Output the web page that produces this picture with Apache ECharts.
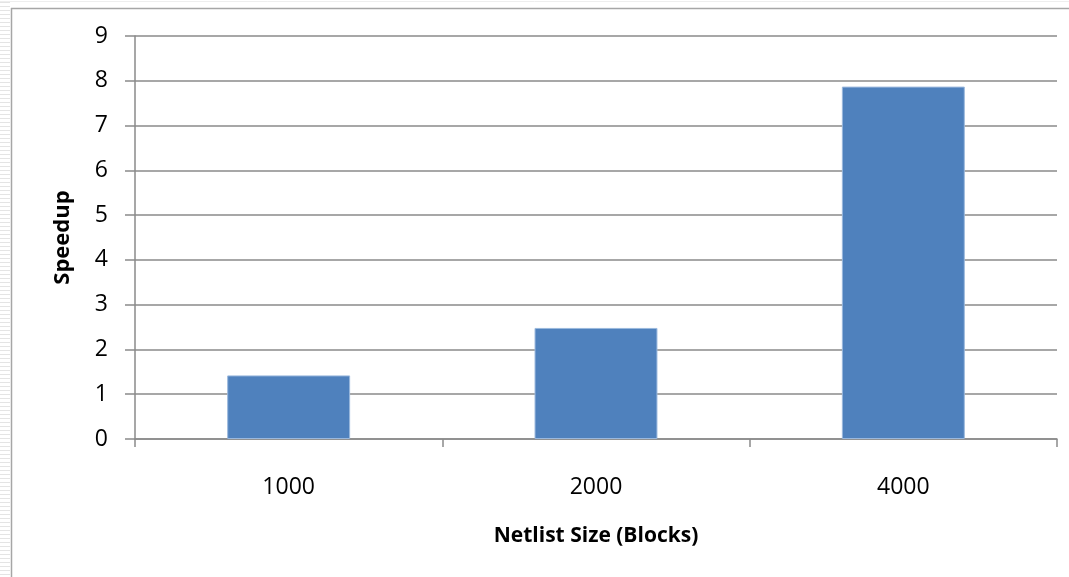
<!DOCTYPE html>
<html>
<head>
<meta charset="utf-8">
<script src="https://cdn.jsdelivr.net/npm/echarts@6/dist/echarts.min.js"></script>
<style>
  html, body { margin: 0; padding: 0; background: #ffffff; }
  #chart { width: 1069px; height: 577px; }
</style>
</head>
<body>
<div id="chart"></div>
<script>
// Netlist sizes and the measured speedup for each
const categories = ['1000', '2000', '4000'];
const speedup = [1.42, 2.48, 7.87];
const yTicks = { min: 0, max: 9, interval: 1 };
const xTitle = 'Netlist Size (Blocks)';
const yTitle = 'Speedup';

const FONT = '"Open Sans", "Noto Sans", sans-serif';
const GRID_GRAY = '#8a8a8a';

// Thin row stripes along the left margin, plus the outer frame lines
const decor = [];
for (let y = 2; y < 577; y += 4) {
  decor.push({
    type: 'rect', silent: true,
    shape: { x: 0, y: y, width: 10, height: 1 },
    style: { fill: '#e4e4e4' }
  });
}
decor.push({
  type: 'line', silent: true,
  shape: { x1: 11, y1: 8.5, x2: 1069, y2: 8.5 },
  style: { stroke: '#a6a6a6', lineWidth: 1.5 }
});
decor.push({
  type: 'line', silent: true,
  shape: { x1: 11.5, y1: 8, x2: 11.5, y2: 577 },
  style: { stroke: '#a6a6a6', lineWidth: 1.5 }
});
decor.push({
  type: 'line', silent: true,
  shape: { x1: 0, y1: 1.5, x2: 1069, y2: 1.5 },
  style: { stroke: '#eeeeee', lineWidth: 1 }
});

const chart = echarts.init(document.getElementById('chart'), null, { renderer: 'canvas' });
chart.setOption({
  animation: false,
  backgroundColor: '#ffffff',
  graphic: decor,
  grid: { left: 135, right: 12, top: 36, bottom: 138, containLabel: false },
  xAxis: {
    type: 'category',
    data: categories,
    name: xTitle,
    nameLocation: 'middle',
    nameGap: 87,
    nameTextStyle: { fontFamily: FONT, fontSize: 21, fontWeight: 'bold', color: '#000' },
    axisLine: { show: true, lineStyle: { color: GRID_GRAY, width: 1.5 } },
    axisTick: { show: true, alignWithLabel: false, length: 8, lineStyle: { color: GRID_GRAY, width: 1.5 } },
    axisLabel: { margin: 37, fontFamily: FONT, fontSize: 23, color: '#000' },
    splitLine: { show: false }
  },
  yAxis: {
    type: 'value',
    min: yTicks.min,
    max: yTicks.max,
    interval: yTicks.interval,
    name: yTitle,
    nameLocation: 'middle',
    nameGap: 61,
    nameRotate: 90,
    nameTextStyle: { fontFamily: FONT, fontSize: 22, fontWeight: 'bold', color: '#000' },
    axisLine: { show: true, lineStyle: { color: GRID_GRAY, width: 1.5 } },
    axisTick: { show: true, length: 10, lineStyle: { color: GRID_GRAY, width: 1.5 } },
    axisLabel: { margin: 27, fontFamily: FONT, fontSize: 23, color: '#000' },
    splitLine: { show: true, lineStyle: { color: GRID_GRAY, width: 1.5 } }
  },
  series: [{
    type: 'bar',
    data: speedup,
    barWidth: '40%',
    itemStyle: { color: '#4f81bd', borderColor: '#9ab8dd', borderWidth: 1 }
  }]
});
</script>
</body>
</html>
